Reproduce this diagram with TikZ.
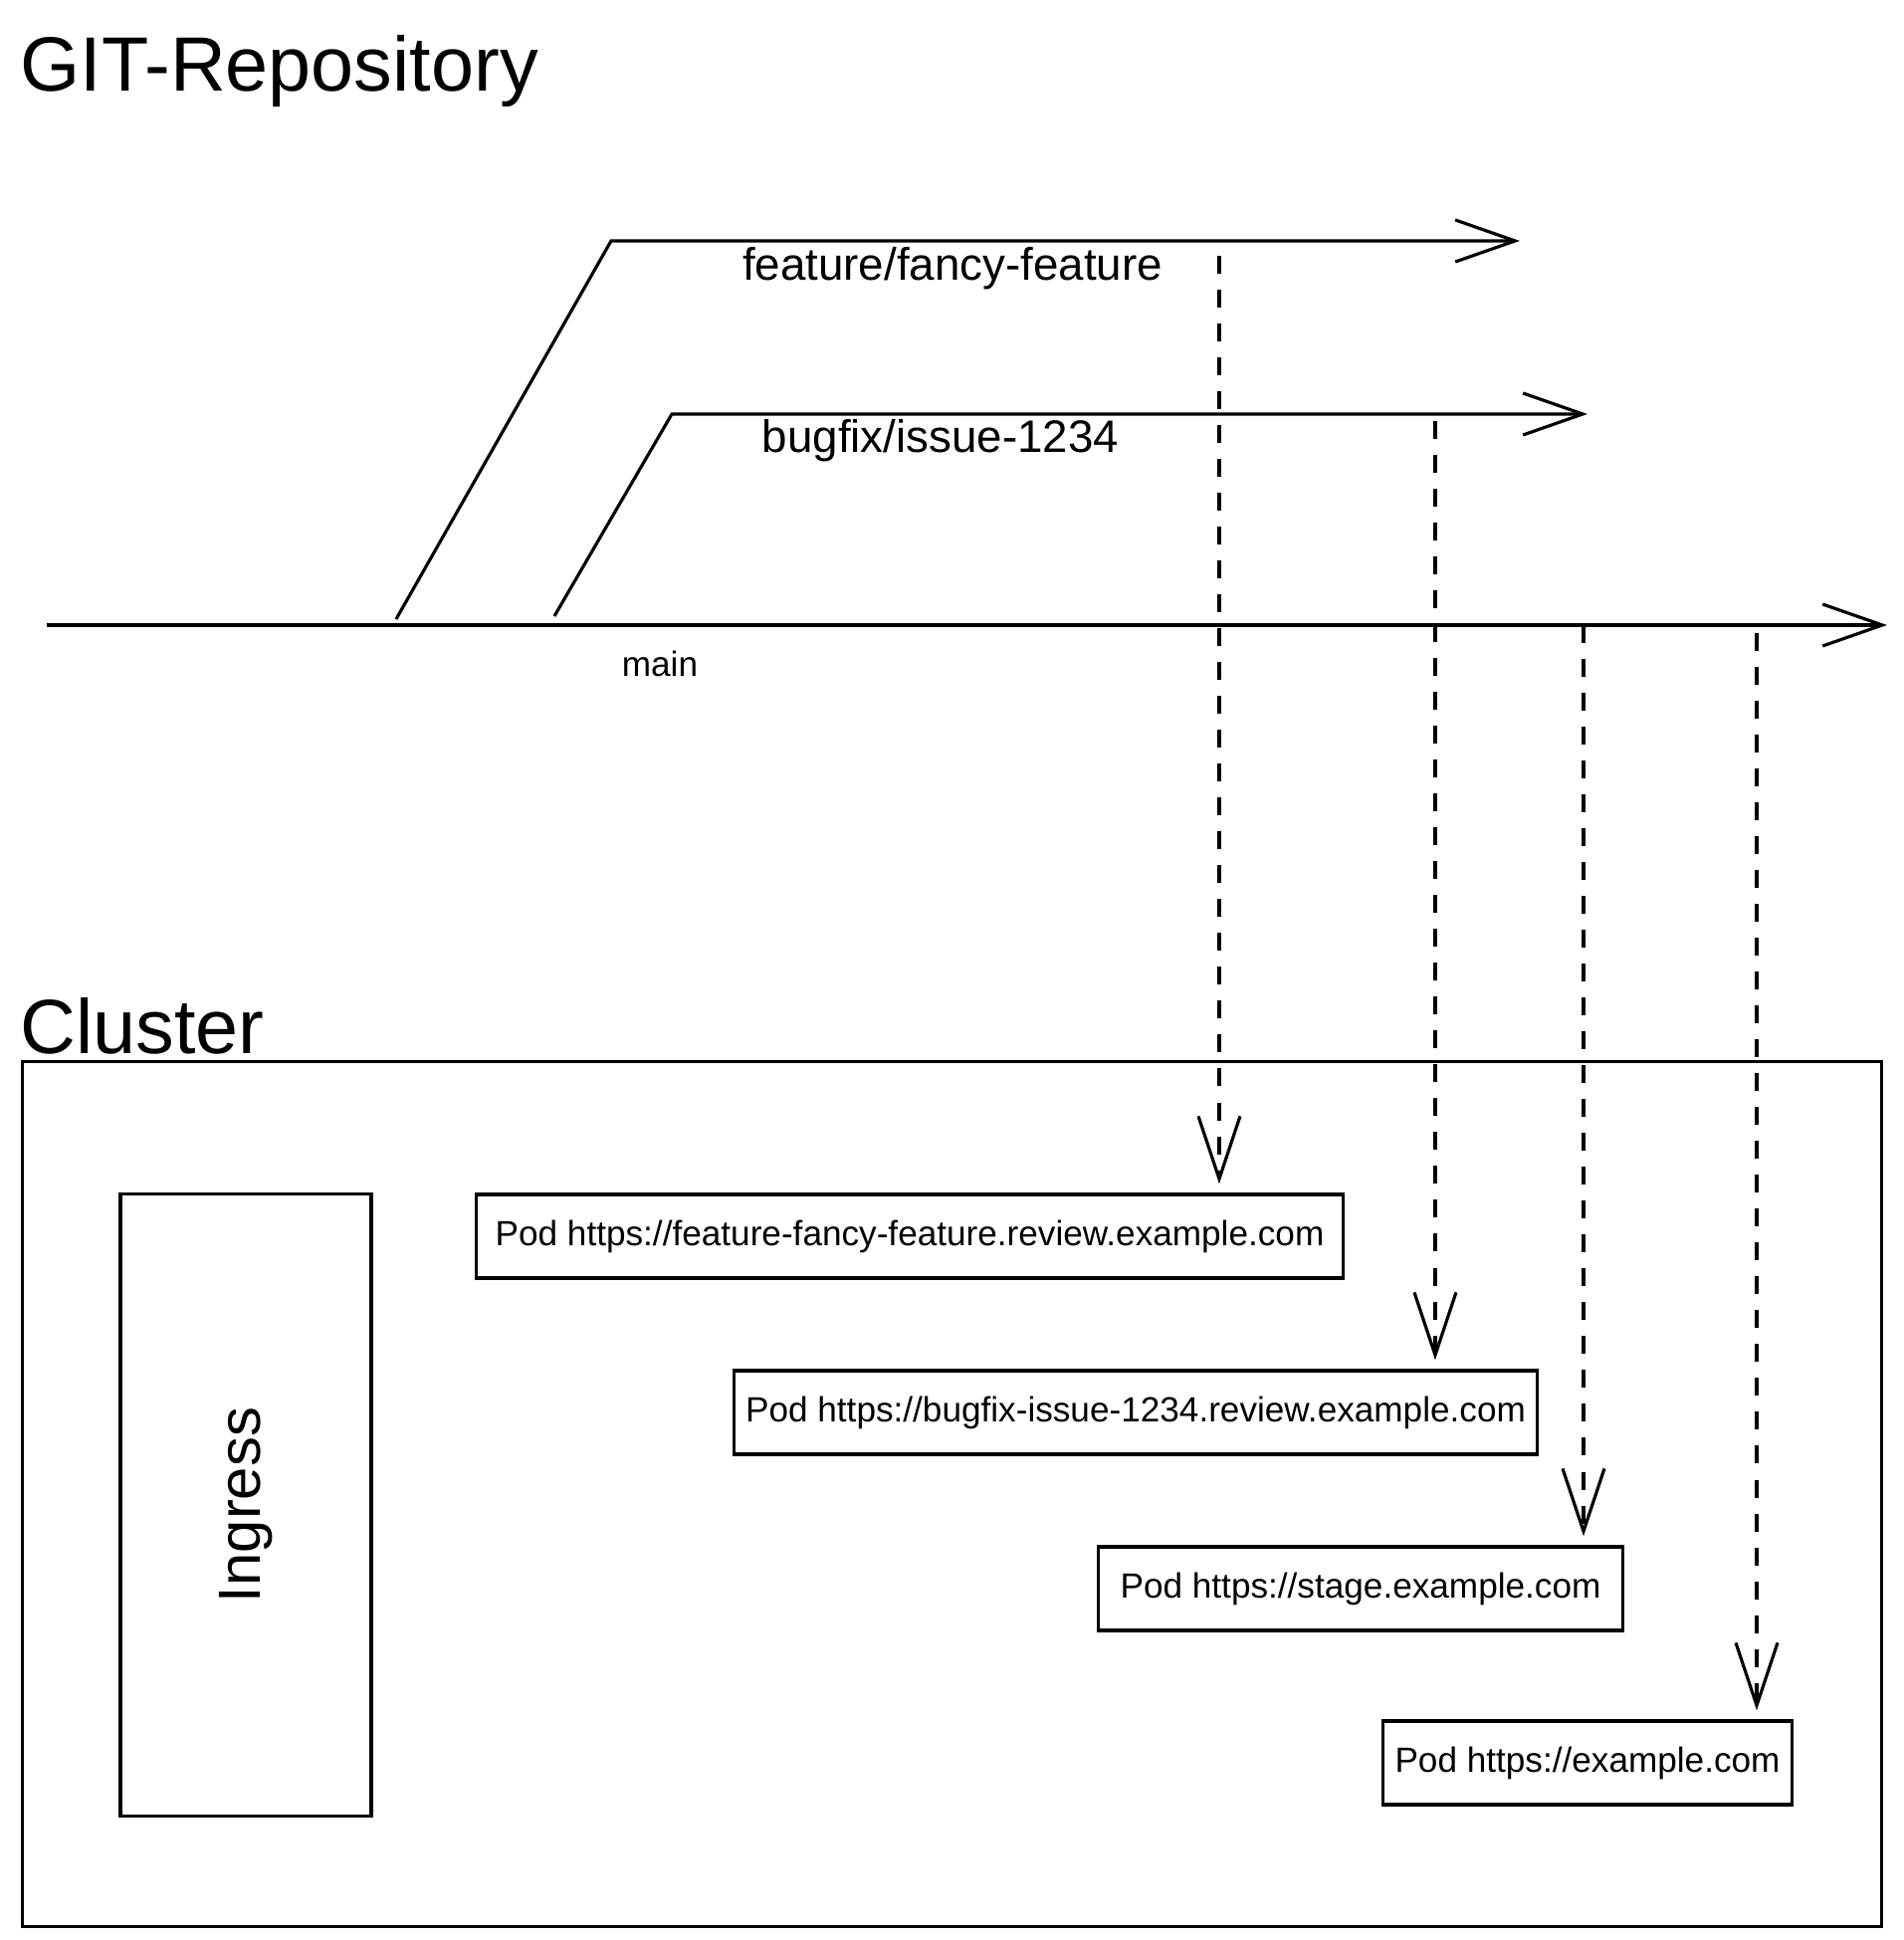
\documentclass[tikz,border=0pt]{standalone}
\usepackage{fontspec}
\setmainfont{Liberation Sans}
\usetikzlibrary{arrows.meta}

\begin{document}
\begin{tikzpicture}
  [x=0.01cm,y=-0.01cm,line width=0.9pt,
   branch/.style={-{Straight Barb[length=6mm,width=4.2mm]}},
   deploy/.style={dash pattern=on 1.8mm off 1.6mm,shorten >=0.9mm,
                  -{Straight Barb[length=6.3mm,width=4.2mm]}},
   title/.style={anchor=base west,inner sep=0pt,font=\fontsize{22}{26}\selectfont},
   branchlabel/.style={font=\fontsize{13}{15}\selectfont},
   podbox/.style={draw,minimum height=8.4mm,font=\fontsize{10}{12}\selectfont}]
  \useasboundingbox (0,0) rectangle (1913,1949);

  % repository
  \node[title] (git) at (19,92) {GIT-Repository};

  \coordinate (m0) at (47,628);
  \coordinate (m1) at (1896,628);
  \coordinate (f0) at (398,622);
  \coordinate (f1) at (614,242);
  \coordinate (f2) at (1527,242);
  \coordinate (b0) at (557,619);
  \coordinate (b1) at (675,416);
  \coordinate (b2) at (1595,416);

  \draw[branch] (m0) -- (m1);
  \draw[branch] (f0) -- (f1) -- (f2);
  \draw[branch] (b0) -- (b1) -- (b2);

  \node[branchlabel] (flabel) at (957,270) {feature/fancy-feature};
  \node[branchlabel] (blabel) at (945,443) {bugfix/issue-1234};
  \node[font=\fontsize{10}{12}\selectfont] (mlabel) at (663,667) {main};

  % cluster
  \node[title] (clustertitle) at (19,1058) {Cluster};
  \node[draw,anchor=north west,inner sep=0pt,minimum width=18.67cm,
        minimum height=8.68cm] (cluster) at (21,1065) {};
  \node[draw,rotate=90,minimum width=6.25cm,minimum height=2.52cm,
        font=\fontsize{17}{20}\selectfont] (ingress) at (247,1512) {Ingress};

  \node[podbox,minimum width=8.7cm] (pod1) at (914,1242)
    {Pod https://feature-fancy-feature.review.example.com};
  \node[podbox,minimum width=7.93cm] (pod2) at (1141,1419)
    {Pod https://bugfix-issue-1234.review.example.com};
  \node[podbox,minimum width=5.26cm] (pod3) at (1367,1596)
    {Pod https://stage.example.com};
  \node[podbox,minimum width=4.1cm] (pod4) at (1595,1771)
    {Pod https://example.com};

  \coordinate (ffeat) at (1225,257);
  \coordinate (bfix) at (1442,423);
  \coordinate (stage) at (1591,628);
  \coordinate (prod) at (1765,636);

  \foreach \from/\to in {ffeat/pod1, bfix/pod2, stage/pod3, prod/pod4}
    \draw[deploy] (\from) -- (\from |- \to.north);

\end{tikzpicture}
\end{document}
